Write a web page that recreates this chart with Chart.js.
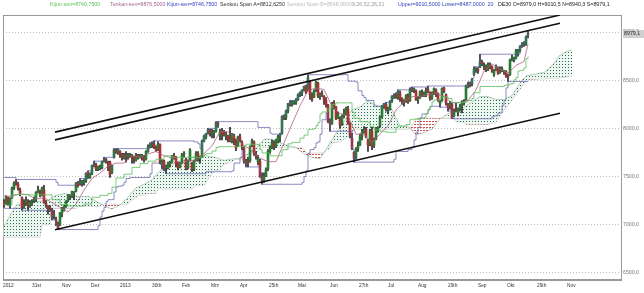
<!DOCTYPE html>
<html><head><meta charset="utf-8">
<script src="https://cdn.jsdelivr.net/npm/chart.js@4.4.1/dist/chart.umd.min.js"></script>
<style>html,body{margin:0;padding:0;background:#fff;}canvas{display:block;}</style>
</head><body>
<canvas id="c" width="644" height="293"></canvas>
<script>
// ---- daily candles (bar index 0 = 10 Oct 2012 ... 262 = 23 Oct 2013) ----
const opens=[7240,7220,7280,7210,7280,7380,7440,7420,7360,7280,7190,7230,7230,7200,7230,7250,7270,7350,7330,7320,7360,7220,7180,7170,7150,7090,7050,7020,7000,7120,7160,7190,7250,7300,7290,7330,7350,7430,7430,7430,7440,7460,7540,7490,7530,7610,7620,7580,7590,7590,7660,7670,7640,7650,7540,7700,7770,7750,7760,7730,7700,7720,7710,7710,7720,7690,7670,7720,7700,7710,7700,7680,7760,7810,7830,7840,7800,7780,7830,7620,7660,7590,7590,7630,7650,7710,7700,7630,7600,7640,7730,7680,7590,7670,7640,7580,7670,7740,7690,7700,7870,7910,7950,7980,7950,7960,7970,8050,7920,7970,7950,7920,7920,7920,7870,7920,7870,7820,7910,7850,7800,7650,7660,7660,7820,7860,7730,7650,7660,7500,7460,7510,7580,7760,7800,7850,7820,7870,7920,7950,8120,8110,8180,8250,8250,8270,8270,8300,8350,8370,8400,8430,8400,8480,8340,8320,8390,8470,8330,8350,8330,8290,8240,8060,8050,8260,8220,8110,8100,8050,8130,8150,8200,8050,7900,7750,7690,7790,7830,7910,7960,7990,7880,7830,7970,7820,7890,8000,8030,8120,8230,8250,8190,8200,8290,8330,8340,8320,8370,8310,8280,8290,8340,8290,8410,8400,8390,8300,8320,8370,8350,8350,8400,8370,8320,8370,8400,8360,8260,8290,8420,8350,8250,8230,8250,8130,8190,8170,8200,8240,8260,8300,8440,8460,8460,8560,8610,8610,8640,8690,8640,8640,8610,8650,8640,8560,8610,8630,8580,8600,8590,8590,8540,8560,8710,8710,8730,8780,8810,8860,8870,8880,8979];
const highs=[7260,7300,7290,7280,7390,7445,7470,7440,7380,7290,7260,7290,7260,7250,7260,7290,7345,7400,7360,7390,7410,7250,7200,7200,7170,7150,7080,7030,7130,7180,7200,7250,7315,7310,7350,7345,7440,7450,7480,7460,7470,7540,7560,7540,7620,7660,7640,7610,7620,7660,7700,7690,7660,7660,7620,7790,7790,7790,7770,7740,7740,7760,7740,7740,7730,7710,7740,7730,7730,7730,7720,7770,7830,7850,7860,7870,7820,7860,7840,7680,7670,7620,7650,7660,7720,7740,7710,7650,7650,7740,7760,7690,7670,7790,7650,7670,7760,7760,7710,7880,7930,7950,8000,7990,7990,7980,8070,8070,7990,8000,7980,7960,7930,8010,7950,7940,7890,7920,7940,7870,7810,7680,7700,7820,7890,7870,7760,7720,7680,7540,7540,7590,7780,7820,7880,7870,7890,7930,7950,8130,8140,8190,8260,8290,8290,8290,8310,8360,8380,8400,8440,8450,8557,8490,8370,8400,8490,8480,8370,8390,8340,8320,8250,8100,8270,8290,8230,8170,8120,8140,8200,8220,8230,8060,7950,7760,7800,7860,7940,7990,8020,8010,7890,7990,8010,7900,8010,8020,8130,8240,8260,8270,8220,8290,8340,8360,8370,8400,8390,8320,8300,8350,8360,8420,8430,8420,8400,8330,8390,8400,8380,8420,8440,8380,8380,8420,8410,8370,8290,8420,8430,8360,8260,8280,8260,8200,8260,8210,8250,8290,8300,8450,8480,8480,8520,8640,8630,8630,8770,8710,8680,8660,8680,8680,8650,8610,8660,8640,8640,8640,8600,8600,8560,8720,8760,8740,8820,8820,8860,8890,8900,8960,9010.5];
const lows=[7180,7210,7200,7170,7270,7365,7410,7360,7300,7150,7170,7200,7150,7180,7200,7230,7240,7330,7290,7300,7220,7180,7110,7140,7050,7060,6990,6950,6990,7080,7140,7180,7240,7260,7280,7260,7340,7390,7410,7400,7410,7440,7480,7480,7520,7600,7560,7560,7570,7580,7650,7640,7560,7490,7530,7690,7740,7730,7700,7670,7680,7650,7680,7700,7640,7640,7660,7680,7690,7670,7650,7670,7750,7800,7800,7790,7760,7770,7630,7580,7560,7530,7580,7600,7640,7680,7600,7570,7590,7630,7700,7570,7580,7660,7550,7560,7660,7660,7640,7700,7860,7890,7940,7920,7900,7900,7960,8010,7880,7880,7920,7880,7860,7860,7850,7830,7770,7810,7860,7780,7640,7600,7600,7650,7810,7720,7680,7620,7490,7420,7440,7500,7560,7740,7790,7780,7800,7850,7860,7940,8090,8090,8160,8230,8230,8250,8250,8290,8330,8340,8390,8360,8390,8300,8280,8320,8380,8320,8300,8330,8250,8220,8060,7970,8040,8200,8090,8100,8000,8030,8110,8140,8040,7900,7780,7650,7680,7760,7820,7880,7950,7900,7760,7820,7780,7800,7880,7960,8010,8110,8210,8180,8150,8190,8270,8310,8310,8300,8280,8250,8230,8270,8260,8280,8380,8370,8290,8260,8310,8330,8330,8330,8370,8290,8300,8350,8330,8280,8220,8280,8370,8240,8180,8200,8100,8120,8170,8130,8180,8160,8240,8290,8420,8430,8440,8550,8580,8570,8630,8650,8610,8590,8600,8620,8580,8540,8600,8560,8570,8590,8560,8530,8487,8550,8700,8690,8720,8750,8790,8840,8850,8860,8940.3];
const closes=[7205,7281,7233,7262,7377,7438,7437,7381,7329,7173,7197,7249,7204,7230,7235,7260,7335,7363,7328,7378,7232,7205,7163,7169,7083,7101,7043,6950,7124,7172,7184,7244,7310,7292,7343,7335,7435,7405,7435,7445,7456,7534,7517,7530,7614,7614,7581,7596,7590,7653,7672,7669,7636,7520,7612,7779,7756,7776,7732,7695,7720,7708,7715,7730,7696,7667,7725,7702,7715,7710,7676,7759,7804,7833,7842,7806,7776,7833,7642,7667,7583,7590,7633,7652,7710,7704,7631,7593,7639,7728,7731,7587,7661,7773,7575,7660,7741,7708,7691,7870,7919,7945,7986,7953,7960,7966,8058,8043,7964,7943,7930,7933,7912,7870,7942,7879,7795,7911,7874,7817,7658,7662,7638,7810,7871,7744,7712,7682,7503,7459,7502,7572,7765,7799,7855,7814,7878,7914,7939,8122,8113,8181,8254,8249,8278,8272,8297,8349,8370,8399,8437,8375,8530,8352,8305,8384,8480,8335,8348,8349,8295,8246,8070,8045,8255,8231,8104,8144,8036,8127,8154,8208,8057,7929,7789,7692,7790,7819,7915,7959,7988,7913,7829,7974,7806,7884,8003,8000,8121,8230,8254,8198,8193,8279,8332,8332,8330,8382,8312,8281,8282,8340,8275,8410,8400,8404,8297,8311,8376,8357,8352,8395,8380,8313,8366,8413,8359,8294,8275,8416,8387,8268,8215,8259,8104,8180,8179,8195,8234,8276,8276,8443,8460,8455,8509,8613,8612,8600,8694,8675,8640,8608,8665,8646,8596,8594,8638,8574,8592,8622,8591,8552,8532,8709,8725,8725,8804,8806,8848,8869,8874,8947,8979.1];

// ---- indicator lines (bar index / value) ----
const tenkanX=[0,4,8,12,16,20,24,28,32,36,40,44,48,52,56,60,64,68,72,76,80,84,88,92,96,100,104,108,112,116,120,124,128,132,136,140,144,148,152,156,160,164,168,172,176,180,184,188,192,196,200,204,208,212,216,220,224,228,232,236,240,244,248,252,256,260,262];
const tenkanY=[7300,7295,7320,7310,7265,7280,7230,7180,7133,7215,7360,7480,7535,7610,7640,7640,7715,7700,7735,7760,7715,7695,7635,7665,7670,7740,7820,7965,7965,7890,7825,7770,7690,7655,7655,7850,8045,8235,8393,8418,8403,8230,8155,8130,7940,7940,7850,7945,8025,8190,8275,8330,8330,8350,8365,8330,8265,8265,8290,8400,8595,8670,8610,8574,8654,8694,8876.5];
const kijunX=[0,4,12,24,28,32,40,44,48,52,54,56,60,64,68,72,76,80,84,100,101,104,106,107,120,121,128,129,133,139,140,142,144,148,150,152,155,156,157,158,159,162,164,166,174,175,178,182,183,185,186,188,191,196,197,201,203,204,208,210,211,212,213,214,215,218,219,222,224,231,232,234,235,238,250,251,253,255,256,257,258,259,260,261,262];
const kijunY=[7205,7315,7310,7260,7210,7195,7215,7285,7305,7325,7390,7485,7525,7595,7635,7660,7680,7715,7700,7730,7740,7765,7800,7810,7815,7835,7780,7745,7715,7775,7780,7840,7855,7900,7930,7990,7999,8030,8060,8150,8170,8205,8250,8265,8170,8105,8070,8065,8020,7995,7985,7970,7960,8010,8025,8040,8090,8095,8105,8115,8155,8200,8225,8275,8295,8315,8330,8310,8270,8275,8290,8310,8370,8435,8445,8450,8465,8505,8530,8595,8600,8605,8628,8723,8746.75];
const upperX=[0,6,26,27,36,37,38,41,42,44,45,50,55,73,74,75,95,97,98,99,100,101,102,106,127,133,134,138,139,140,141,142,143,146,147,148,149,150,151,152,172,176,177,179,180,181,185,189,190,191,193,194,195,196,197,203,204,212,232,234,235,238,258,259,260,261,262];
const upperY=[7490,7470,7440,7410,7440,7450,7480,7540,7560,7620,7660,7700,7790,7850,7860,7870,7860,7840,7790,7880,7930,7950,8000,8070,8010,7950,7940,7950,8130,8140,8190,8260,8290,8310,8360,8380,8400,8440,8450,8557,8490,8480,8390,8340,8320,8290,8230,8240,8260,8270,8290,8340,8360,8370,8400,8420,8430,8440,8480,8520,8640,8770,8860,8890,8900,8960,9010.5];
const lowerX=[0,9,24,26,27,47,48,49,50,51,52,54,55,56,57,59,60,61,63,73,74,78,79,80,81,101,114,115,118,119,120,121,128,129,149,150,151,152,153,155,156,157,158,159,161,162,163,174,175,195,196,202,204,205,206,207,208,209,212,213,218,222,224,244,245,247,249,250,251,252,262];
const lowerY=[7170,7150,7050,6990,6950,6990,7080,7140,7180,7240,7260,7260,7340,7390,7400,7410,7440,7480,7490,7530,7640,7630,7580,7560,7530,7550,7560,7640,7700,7770,7640,7600,7490,7420,7440,7500,7560,7740,7780,7800,7850,7860,7940,8090,8160,8060,7970,7780,7650,7680,7760,7780,7800,7880,7960,8010,8110,8150,8190,8230,8220,8180,8100,8120,8130,8160,8240,8290,8420,8487,8487];

// ---- cloud (Senkou Span A / B), plotted position on the bar axis ----
const cloudX=[-4,-1,2,6,11,16,18,19,22,23,24,26,30,34,36,37,38,42,46,48,49,50,54,56,57,58,62,63,64,66,67,70,72,74,76,77,78,82,86,90,94,95,97,98,100,101,102,103,104,105,106,108,109,110,111,114,115,117,118,121,122,123,124,126,127,128,130,134,138,142,146,149,150,151,154,158,160,161,162,163,164,165,166,169,170,172,173,174,175,178,182,186,190,194,198,202,203,204,205,206,210,214,218,222,225,226,230,231,234,238,242,246,248,249,250,254,256,258,259,260,261,262,266,270,274,278,280,282,283,284];
const spanA=[6900,6950,7060,7200,7240,7240,7245,7248,7253,7266,7279,7305,7323,7310,7299,7293,7288,7295,7245,7220,7208,7195,7164,7185,7195,7205,7288,7311,7335,7383,7392,7420,7444,7468,7515,7540,7563,7583,7655,7668,7698,7704,7715,7720,7717,7716,7715,7710,7706,7702,7698,7683,7675,7668,7672,7683,7684,7685,7685,7722,7735,7750,7764,7793,7817,7840,7888,7888,7850,7820,7803,7752,7735,7726,7700,7685,7750,7783,7815,7849,7883,7916,7950,8038,8068,8130,8161,8192,8200,8224,8287,8240,8210,8198,8023,8023,8001,7979,7957,7935,7958,7993,8100,8150,8197,8213,8218,8232,8275,8330,8330,8300,8300,8300,8300,8340,8410,8470,8500,8520,8540,8550,8565,8580,8650,8760,8785,8805,8810,8812.625];
const spanB=[6870,6870,6870,6870,6870,6870,6870,7000,7000,7000,7170,7170,7170,7170,7170,7190,7190,7190,7190,7190,7215,7215,7215,7215,7210,7210,7210,7245,7255,7285,7305,7305,7325,7325,7325,7370,7370,7370,7370,7370,7370,7400,7410,7410,7410,7430,7475,7505,7525,7555,7565,7565,7605,7630,7635,7655,7675,7680,7680,7680,7710,7720,7745,7745,7765,7800,7800,7800,7800,7800,7800,7800,7780,7745,7745,7745,7745,7775,7780,7805,7840,7855,7855,7865,7890,7910,7930,7930,7990,7990,7990,7990,7990,7990,7990,7990,7999,8029,8059,8104,8104,8104,8104,8104,8104,8070,8065,8040,8040,8040,8040,8060,8130,8160,8185,8295,8350,8405,8435,8460,8490,8505,8510,8515,8520,8525,8530,8538,8543,8548];

// ---- channel lines [bar index, value] ----
const chanUpperA=[[25.5,7961],[278,9177]];
const chanUpperB=[[25.5,7881],[278,9091]];
const chanLower=[[25.5,6947],[278,8158]];

// ---- axis labels ----
const xTickPos=[-0.5,14,29,43.5,58,74,89,103.5,118,132.5,147,163,177.5,192,207,222,237,251.5,266.5,281.5];
const xTickLabels=["2012","31st","Nov","Dez","2013","30th","Feb","Mrz","Apr","25th","Mai","Jun","27th","Jul","Aug","29th","Sep","Okt","29th","Nov"];
const yTicks=[6500,7000,7500,8000,8500,9000];
const header=[
  {t:"Kijun-sen=8740,7500",x:50,c:"#55c455"},
  {t:"Tenkan-sen=8876,5000",x:110,c:"#a8648a"},
  {t:"Kijun-sen=8746,7500",x:167,c:"#3a3acc"},
  {t:"Senkou Span A=8812,6250",x:220,c:"#333333"},
  {t:"Senkou Span B=8548,0000",x:287,c:"#bbbbbb"},
  {t:"9,26,52,26,21",x:352,c:"#999999"},
  {t:"Upper=9010,5000 Lower=8487,0000  20",x:398,c:"#3344bb"},
  {t:"DE30 O=8979,0 H=9010,5 N=8940,3 S=8979,1",x:498,c:"#222222"}
];

const canvas=document.getElementById('c');
const mainCtx=canvas.getContext('2d');
function pattern(draw){const c=document.createElement('canvas');c.width=3;c.height=3;const g=c.getContext('2d');draw(g);return mainCtx.createPattern(c,'repeat');}
const greenDots=pattern(g=>{g.fillStyle='rgba(225,240,230,0.6)';g.fillRect(0,0,3,3);g.fillStyle='rgba(30,105,75,0.95)';g.fillRect(1,1,1,1);});
const redHatch=pattern(g=>{g.fillStyle='rgba(205,60,60,0.9)';g.fillRect(0,1,2,1);});

const xy=(xs,ys)=>xs.map((x,i)=>({x:x,y:ys[i]}));
const pairs=p=>p.map(q=>({x:q[0],y:q[1]}));
const idx=opens.map((_,i)=>i);
const bull='#2b7a36', bear='#a83232';

const lineBase={type:'line',pointRadius:0,borderWidth:0.8,fill:false,tension:0};

const framePlugin={
  id:'frame',
  beforeDatasetsDraw(chart){
    const a=chart.chartArea, g=chart.ctx;
    g.save();g.strokeStyle='#9a9a9a';g.lineWidth=1;
    g.strokeRect(a.left+0.5,a.top+0.5,a.right-a.left-1,a.bottom-a.top-1);
    g.lineWidth=2;g.beginPath();g.moveTo(a.left,a.bottom-1);g.lineTo(a.right,a.bottom-1);g.stroke();
    g.restore();
  },
  afterDraw(chart){
    const g=chart.ctx, y=chart.scales.y;
    g.save();
    g.font='5.3px "Liberation Sans", Arial, sans-serif';g.textBaseline='middle';g.textAlign='left';
    header.forEach(h=>{g.fillStyle=h.c;g.fillText(h.t,h.x,5);});
    const last=closes[closes.length-1];
    const py=Math.round(y.getPixelForValue(last));
    g.fillStyle='#cfcfcf';g.fillRect(623,py-4,21,8);
    g.fillStyle='#222';
    g.fillText(last.toFixed(1).replace('.',','),624,py);
    g.restore();
  }
};

new Chart(canvas,{
  type:'bar',
  data:{datasets:[
    Object.assign({},lineBase,{label:'SpanB',data:xy(cloudX,spanB),borderColor:'#c4c4c4',borderWidth:0.6,order:20}),
    Object.assign({},lineBase,{label:'SpanA',data:xy(cloudX,spanA),borderColor:'rgba(110,160,120,0.8)',borderWidth:0.6,order:19,
      fill:{target:0,above:greenDots,below:redHatch}}),
    {type:'bar',label:'wick',data:idx.map(i=>({x:i,y:[lows[i],highs[i]]})),backgroundColor:'#2a2a2a',barThickness:1,grouped:false,order:6},
    {type:'bar',label:'body',data:idx.map(i=>({x:i,y:[opens[i],closes[i]]})),
      backgroundColor:c=>closes[c.dataIndex]>=opens[c.dataIndex]?bull:bear,barThickness:2,minBarLength:1,grouped:false,order:5},
    Object.assign({},lineBase,{label:'Upper',data:xy(upperX,upperY),borderColor:'#5a5aa6',borderWidth:0.7,stepped:true,order:4}),
    Object.assign({},lineBase,{label:'Lower',data:xy(lowerX,lowerY),borderColor:'#5a5aa6',borderWidth:0.7,stepped:true,order:4}),
    Object.assign({},lineBase,{label:'Kijun',data:xy(kijunX,kijunY),borderColor:'#5cbf5c',stepped:true,order:3}),
    Object.assign({},lineBase,{label:'Tenkan',data:xy(tenkanX,tenkanY),borderColor:'#b0607e',order:3}),
    Object.assign({},lineBase,{label:'ch1',data:pairs(chanUpperA),borderColor:'#111',borderWidth:1.6,order:1}),
    Object.assign({},lineBase,{label:'ch2',data:pairs(chanUpperB),borderColor:'#111',borderWidth:1.6,order:1}),
    Object.assign({},lineBase,{label:'ch3',data:pairs(chanLower),borderColor:'#111',borderWidth:1.6,order:1})
  ]},
  options:{
    responsive:false,animation:false,devicePixelRatio:1,
    layout:{padding:{left:3,top:15,right:0,bottom:0}},
    plugins:{legend:{display:false},tooltip:{enabled:false}},
    scales:{
      x:{type:'linear',min:-0.5,max:309,offset:false,
        grid:{display:false,drawTicks:false},border:{display:false},
        afterBuildTicks:s=>{s.ticks=xTickPos.map(v=>({value:v}));},
        afterFit:s=>{s.height=12;},
        ticks:{autoSkip:false,maxRotation:0,align:'start',padding:2,color:'#333',font:{size:4.8,family:'"Liberation Sans", Arial, sans-serif'},
          callback:(v,i)=>xTickLabels[i]}},
      y:{type:'linear',position:'right',min:6416,max:9177,
        grid:{color:'#bdbdbd',lineWidth:1,drawTicks:false,borderDash:[1,2]},border:{display:false,dash:[1,2]},
        afterBuildTicks:s=>{s.ticks=yTicks.map(v=>({value:v}));},
        afterFit:s=>{s.width=22;},
        ticks:{padding:1,color:'#777',font:{size:5.2,family:'"Liberation Sans", Arial, sans-serif'},
          callback:v=>v.toFixed(1).replace('.',',')}}
    }
  },
  plugins:[framePlugin]
});
</script>
</body></html>
